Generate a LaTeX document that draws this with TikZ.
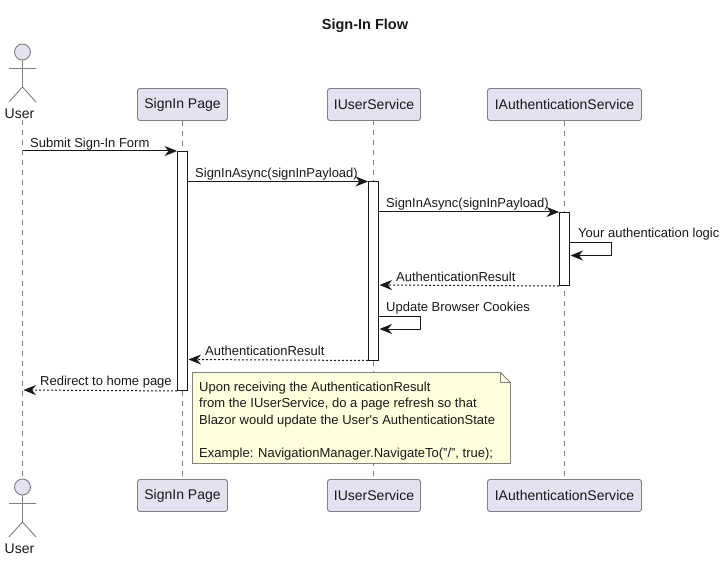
\documentclass[tikz,border=0pt]{standalone}
\usepackage{fontspec}
\setmainfont{Liberation Sans}
\newfontfamily\plainfont{Liberation Sans}
\usetikzlibrary{arrows.meta,backgrounds}
\definecolor{partfill}{HTML}{E2E2F0}
\definecolor{notefill}{HTML}{FEFFDD}
\definecolor{edgegray}{HTML}{7F7F7F}
\definecolor{ink}{HTML}{181818}
\tikzset{
  x=1pt,y=-1pt,
  every node/.style={font=\fontsize{13}{16}\selectfont,text=ink},
  part/.style={draw=edgegray,fill=partfill,rounded corners=2.5pt,line width=0.9pt,minimum height=32pt,inner sep=0pt,anchor=center,font=\fontsize{14}{16}\selectfont},
  actorline/.style={draw=edgegray,line width=0.9pt},
  life/.style={draw=edgegray,line width=0.9pt,dash pattern=on 5pt off 5pt},
  activ/.style={draw=ink,fill=white,line width=1pt,minimum width=10pt,inner sep=0pt,anchor=north},
  msg/.style={draw=ink,line width=1pt,-{Stealth[length=12.5pt,width=10pt,inset=4pt]}},
  rmsg/.style={msg,dash pattern=on 2pt off 2pt},
  lbl/.style={anchor=base west,inner sep=0pt},
  notebox/.style={draw=edgegray,fill=notefill,line width=0.9pt,line join=miter},
}
\newcommand{\actorfig}[2]{%
  \draw[actorline,fill=partfill] (22.5,#1) circle (8);
  \draw[actorline] (22.5,#1+8) -- (22.5,#1+35) (9,#1+16.5) -- (36,#1+16.5) (9,#1+50) -- (22.5,#1+35) -- (36,#1+50);
}
\begin{document}
\begin{tikzpicture}
\useasboundingbox (0,0) rectangle (725,561);
\node[font=\fontsize{14.5}{16}\selectfont\bfseries,inner sep=0pt] (title) at (365,25.5) {Sign-In Flow};

% participants
\actorfig{52}{}
\actorfig{487}{}
\node[inner sep=0pt,font=\fontsize{14}{16}\selectfont] (ua) at (19.5,113.5) {User};
\node[inner sep=0pt,font=\fontsize{14}{16}\selectfont] (ub) at (19.5,549) {User};
\node[part,minimum width=90pt]  (h2) at (182.5,104.5) {SignIn Page};
\node[part,minimum width=93pt]  (h3) at (374,104.5) {IUserService};
\node[part,minimum width=154pt] (h4) at (564.5,104.5) {IAuthenticationService};
\node[part,minimum width=90pt]  (f2) at (182.5,495.5) {SignIn Page};
\node[part,minimum width=93pt]  (f3) at (374,495.5) {IUserService};
\node[part,minimum width=154pt] (f4) at (564.5,495.5) {IAuthenticationService};

% lifelines
\coordinate (l1a) at (22.5,120.5);
\coordinate (l1b) at (22.5,477);
\draw[life] (l1a) -- (l1b);
\draw[life] (h2.south) -- (182.5,479);
\draw[life] (373.5,120.5) -- (373.5,479);
\draw[life] (h4.south) -- (f4.north);

% activations
\node[activ,minimum height=239pt] (a2) at (182.5,151) {};
\node[activ,minimum height=178pt]   (a3) at (373.5,181.5) {};
\node[activ,minimum height=73pt]    (a4) at (564.5,212) {};

% messages
\coordinate (m1s) at (22.5,151);
\draw[msg] (m1s) -- (a2.north west);
\node[lbl] (t1) at (30,147.5) {Submit Sign-In Form};

\coordinate (m2s) at (187.5,181.5);
\draw[msg] (m2s) -- (a3.north west);
\node[lbl] (t2) at (195,177.5) {SignInAsync(signInPayload)};

\coordinate (m3s) at (378.5,212);
\draw[msg] (m3s) -- (a4.north west);
\node[lbl] (t3) at (386,207.5) {SignInAsync(signInPayload)};

\coordinate (s1a) at (569.5,242.5);
\coordinate (s1b) at (611.5,242.5);
\coordinate (s1c) at (611.5,255.5);
\coordinate (s1d) at (570.5,255.5);
\draw[msg] (s1a) -- (s1b) -- (s1c) -- (s1d);
\node[lbl] (t4) at (578,238) {Your authentication logic};

\coordinate (m5e) at (379.5,285);
\draw[rmsg] (a4.south west) -- (m5e);
\node[lbl] (t5) at (396,281) {AuthenticationResult};

\coordinate (s2a) at (378.5,316);
\coordinate (s2b) at (420.5,316);
\coordinate (s2c) at (420.5,329);
\coordinate (s2d) at (379.5,329);
\draw[msg] (s2a) -- (s2b) -- (s2c) -- (s2d);
\node[lbl] (t6) at (386,311) {Update Browser Cookies};

\coordinate (m7e) at (188.5,359.5);
\draw[rmsg] (a3.south west) -- (m7e);
\node[lbl] (t7) at (205,355) {AuthenticationResult};

\coordinate (m8e) at (23.5,390);
\draw[rmsg] (a2.south west) -- (m8e);
\node[lbl] (t8) at (40,385.5) {Redirect to home page};

% note
\draw[notebox] (192.5,372.5) -- (500.5,372.5) -- (510.5,382.5) -- (510.5,463.5) -- (192.5,463.5) -- cycle;
\draw[notebox,fill=none] (500.5,372.5) -- (500.5,382.5) -- (510.5,382.5);
\node[lbl] (n1) at (199,391) {Upon receiving the AuthenticationResult};
\node[lbl] (n2) at (199,407.5) {from the IUserService, do a page refresh so that};
\node[lbl] (n3) at (199,424) {Blazor would update the User{\plainfont '}s AuthenticationState};
\node[lbl] (n4) at (199,457) {Example: NavigationManager.NavigateTo("/", true);};
\end{tikzpicture}
\end{document}
